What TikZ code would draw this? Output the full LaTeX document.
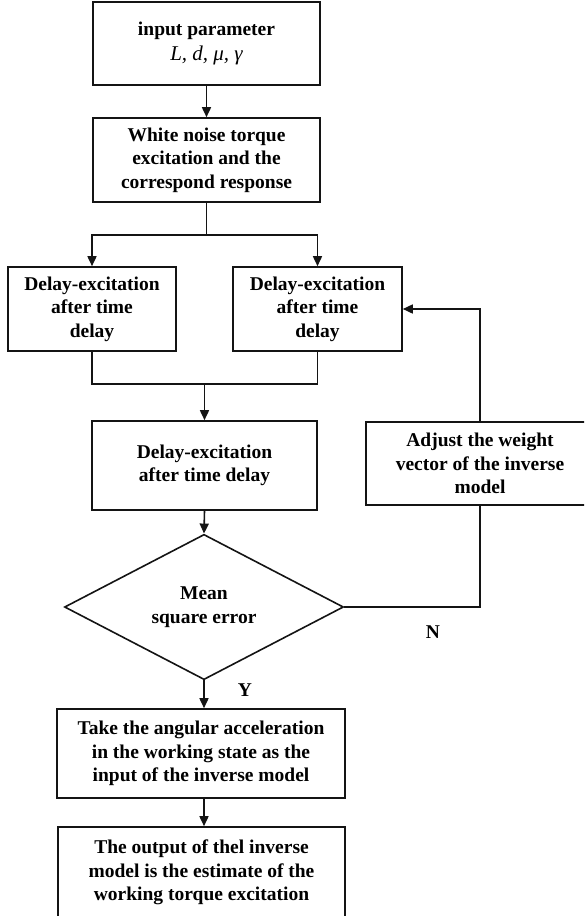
\documentclass[tikz,border=0pt]{standalone}
\usepackage{fontspec}
\setmainfont{Liberation Serif}
\usetikzlibrary{arrows.meta,shapes.geometric}

\definecolor{flowLine}{RGB}{20,20,20}

\tikzset{
  flowText/.style={font=\fontsize{19.5}{23.5}\selectfont\bfseries, text=black},
  flowBox/.style={flowText, draw=flowLine, line width=1.6pt, align=center, inner sep=2pt, fill=white},
  flowDecision/.style={flowText, draw=flowLine, line width=1.6pt, align=center, shape=diamond, inner sep=0pt, fill=white},
  flowLink/.style={draw=flowLine, line width=1.6pt},
  flowArrow/.style={flowLink, -{Triangle[length=10pt,width=9pt]}},
}

\begin{document}
\begin{tikzpicture}[x=1pt,y=-1pt]

    \clip (0,0) rectangle (584,916);
    \fill[white] (0,0) rectangle (584,916);

    % boxes
    \node[flowBox, minimum width=227pt, minimum height=83pt] (input) at (206.5,43.5)
      {input parameter\\[1pt] {\fontsize{21}{24}\selectfont\mdseries\itshape L, d, μ, γ}};
    \node[flowBox, minimum width=227pt, minimum height=84pt] (noise) at (206.5,160)
      {White noise torque\\ excitation and the\\ correspond response};
    \node[flowBox, minimum width=168pt, minimum height=84pt] (delayLeft) at (92,309)
      {Delay-excitation\\ after time\\ delay};
    \node[flowBox, minimum width=169pt, minimum height=84pt] (delayRight) at (317.5,309)
      {Delay-excitation\\ after time\\ delay};
    \node[flowBox, minimum width=225pt, minimum height=89pt] (delayMerge) at (204.5,465.5)
      {Delay-excitation\\ after time delay};
    \node[flowBox, minimum width=228pt, minimum height=83pt] (adjust) at (480,463.5)
      {Adjust the weight\\ vector of the inverse\\ model};
    \node[flowDecision, minimum width=279pt, minimum height=139pt] (mse) at (204,607)
      {Mean\\ square error};
    \node[flowBox, minimum width=288pt, minimum height=89pt] (takeAcc) at (201,753.5)
      {Take the angular acceleration\\ in the working state as the\\ input of the inverse model};
    \node[flowBox, minimum width=287pt, minimum height=91pt] (output) at (201.5,872.5)
      {The output of thel inverse\\ model is the estimate of the\\ working torque excitation};

    % labels
    \node[flowText] (yesLabel) at (245,690) {Y};
    \node[flowText] (noLabel) at (433,632) {N};

    % connectors
    \draw[flowArrow] (input) -- (noise);
    \draw[flowLink] (noise.south) -- ++(0,32) coordinate (split);
    \draw[flowArrow] (split) -| (delayLeft.north);
    \draw[flowArrow] (split) -| (delayRight.north);
    \coordinate (merge) at (204.5,384);
    \draw[flowLink] (delayLeft.south) |- (merge) -| (delayRight.south);
    \draw[flowArrow] (merge) -- (delayMerge.north);
    \draw[flowArrow] (delayMerge.south) -- (mse.north);
    \draw[flowArrow] (mse.south) -- (mse.south |- takeAcc.north);
    \draw[flowArrow] (takeAcc.south -| mse.south) -- (output.north -| mse.south);
    \draw[flowLink] (mse.east) -| (adjust.south);
    \draw[flowArrow] (adjust.north) |- (delayRight.east);

\end{tikzpicture}
\end{document}
